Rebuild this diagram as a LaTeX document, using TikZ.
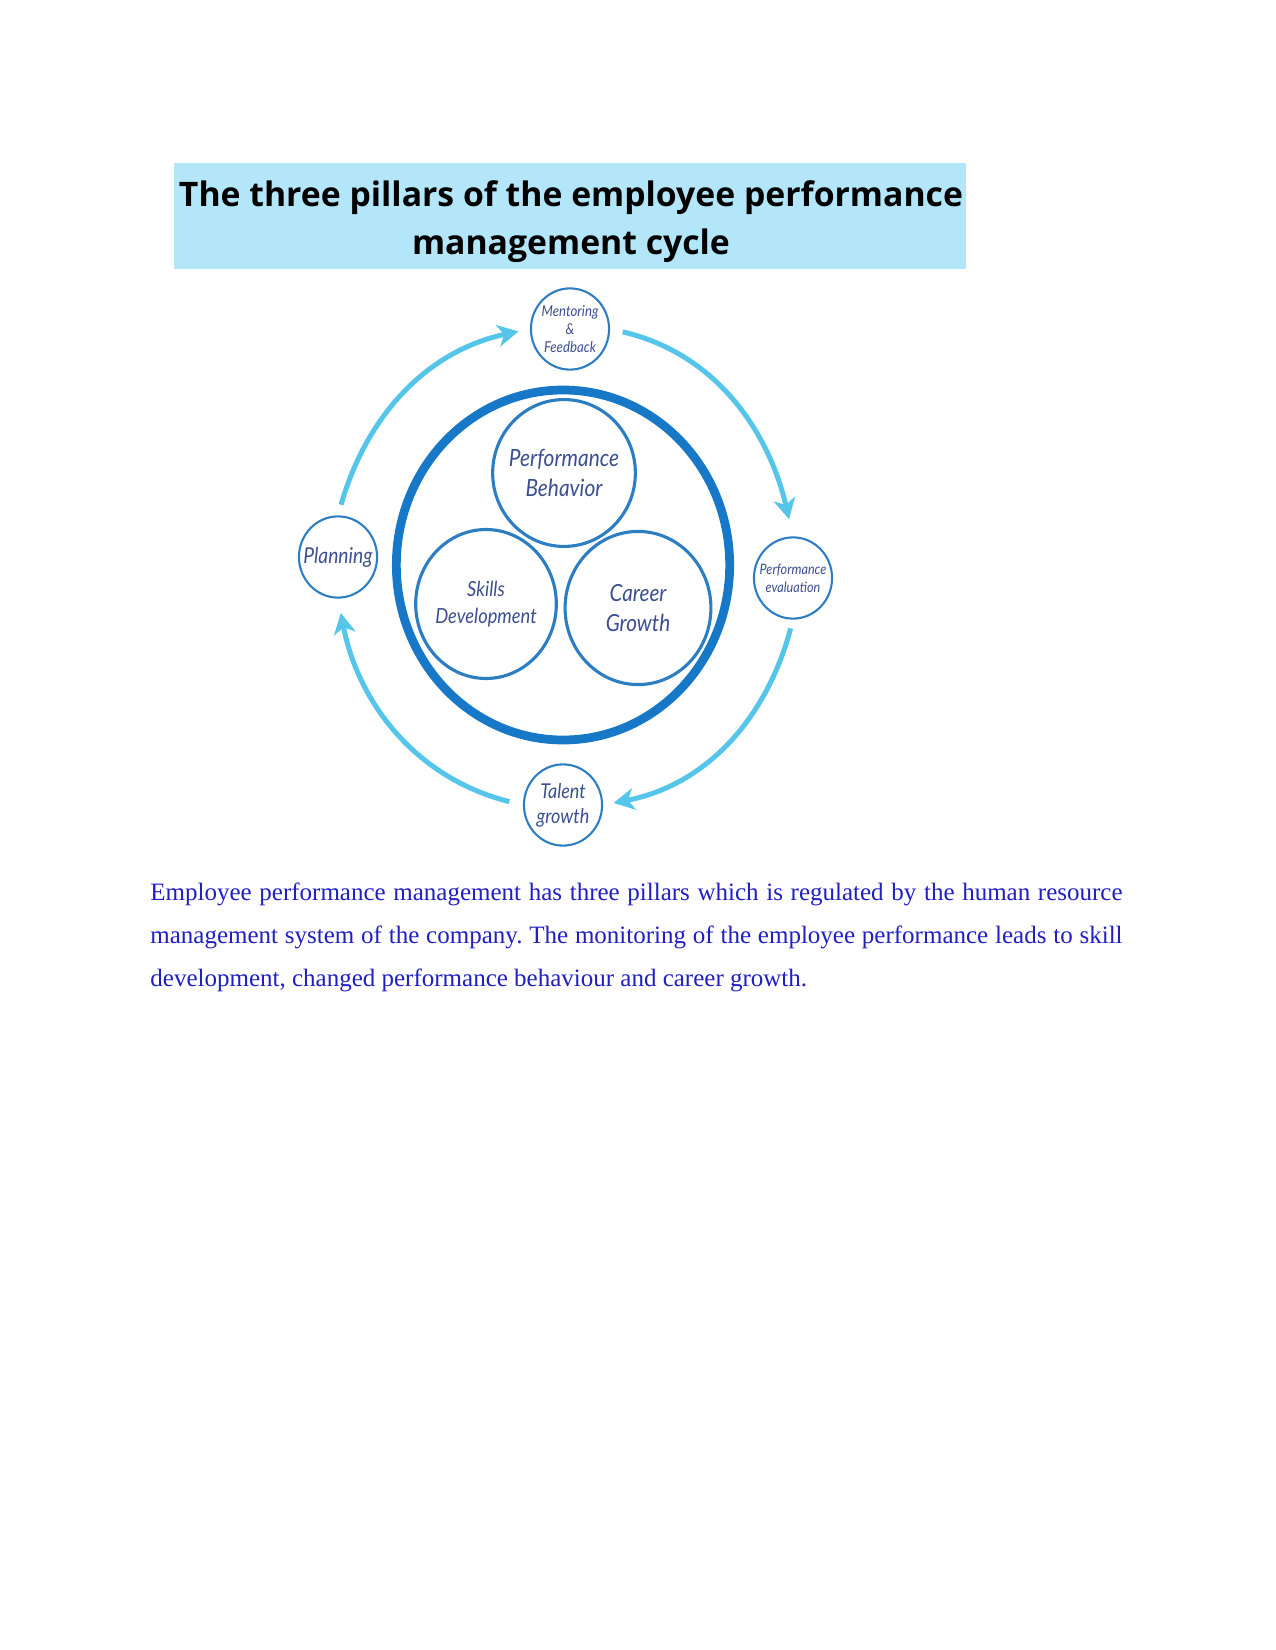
\documentclass[tikz,border=0pt]{standalone}
\usepackage{fontspec}
\setmainfont{Liberation Serif}
\newfontfamily\ttlfont{Open Sans}
\newfontfamily\lblfont{Lato}[FakeStretch=0.88]
\usetikzlibrary{arrows.meta,shapes.geometric}
\definecolor{ttlfill}{HTML}{B4E6FA}
\definecolor{ringblue}{HTML}{1878C8}
\definecolor{circblue}{HTML}{2D7DC2}
\definecolor{lblblue}{HTML}{3B4F8F}
\definecolor{arrblue}{HTML}{55C5EA}
\definecolor{bodyblue}{HTML}{1F1FC2}

\begin{document}
\frenchspacing
\begin{tikzpicture}[x=0.48pt, y=-0.48pt,
      ttlbox/.style={fill=ttlfill, inner sep=0pt, minimum width=380pt, minimum height=50.9pt},
      ttl/.style={inner sep=0pt, align=center, font=\ttlfont\bfseries\fontsize{16.2}{23}\selectfont},
      stage/.style={ellipse, draw=circblue, line width=1pt, inner sep=-6pt, align=center,
                    minimum width=37.5pt, minimum height=39pt, text=lblblue},
      pillar/.style={ellipse, draw=circblue, line width=1.5pt, inner sep=-6pt, align=center,
                     text=lblblue, font=\lblfont\itshape\fontsize{11.4}{14}\selectfont},
      cyc/.style={-{Stealth[length=10pt, width=10.5pt, inset=3pt]}, arrblue, line width=2.4pt}]
    \useasboundingbox (0,0) rectangle (1275,1650);
    \node[ttlbox] (titlebox) at (570,216) {};
    \node[ttl] (title) at (571,222) {The three pillars of the employee performance\\management cycle};
    % outer ring and the three pillars
    \node[ellipse, draw=ringblue, line width=4.2pt, minimum width=160pt, minimum height=168pt] (ring) at (563,565) {};
    \node[pillar, minimum width=68.5pt, minimum height=70.5pt] (behav) at (564,473) {Performance\\Behavior};
    \node[pillar, minimum width=67.5pt, minimum height=71.5pt, font=\lblfont\itshape\fontsize{10}{12.6}\selectfont] (skills) at (486,604) {Skills\\Development};
    \node[pillar, minimum width=70pt, minimum height=73.5pt, font=\lblfont\itshape\fontsize{11.3}{14}\selectfont] (career) at (638,608) {Career\\Growth};
    % cycle stages
    \node[stage, font=\lblfont\itshape\fontsize{7.2}{8.6}\selectfont] (ment) at (570,329) {Mentoring\\\&\\Feedback};
    \node[stage, font=\lblfont\itshape\fontsize{6.9}{8.6}\selectfont] (eval) at (793,578) {Performance\\evaluation};
    \node[stage, font=\lblfont\itshape\fontsize{9.8}{12}\selectfont] (talent) at (563,805) {Talent\\growth};
    \node[stage, font=\lblfont\itshape\fontsize{10.5}{12}\selectfont] (plan) at (338,557) {Planning};
    \draw[cyc, shorten <=5.3pt, shorten >=5.6pt] (plan.north) to[out=74, in=192] (ment.west);
    \draw[cyc, shorten <=6.2pt, shorten >=8.4pt] (ment.east) to[out=-13, in=103] (eval.north);
    \draw[cyc, shorten <=4.3pt, shorten >=5.1pt] (eval.south) to[out=-105, in=11] (talent.east);
    \draw[cyc, shorten <=6.7pt, shorten >=7pt] (talent.west) to[out=166, in=-79] (plan.south);
    \node[anchor=base west, inner sep=0pt, text width=466.6pt, align=justify, text=bodyblue,
          font=\fontsize{12}{20.64}\selectfont] (body) at (150,900)
      {Employee performance management has three pillars which is regulated by the human resource management system of the company. The monitoring of the employee performance leads to skill development, changed performance behaviour and career growth.};
  \end{tikzpicture}
\end{document}
